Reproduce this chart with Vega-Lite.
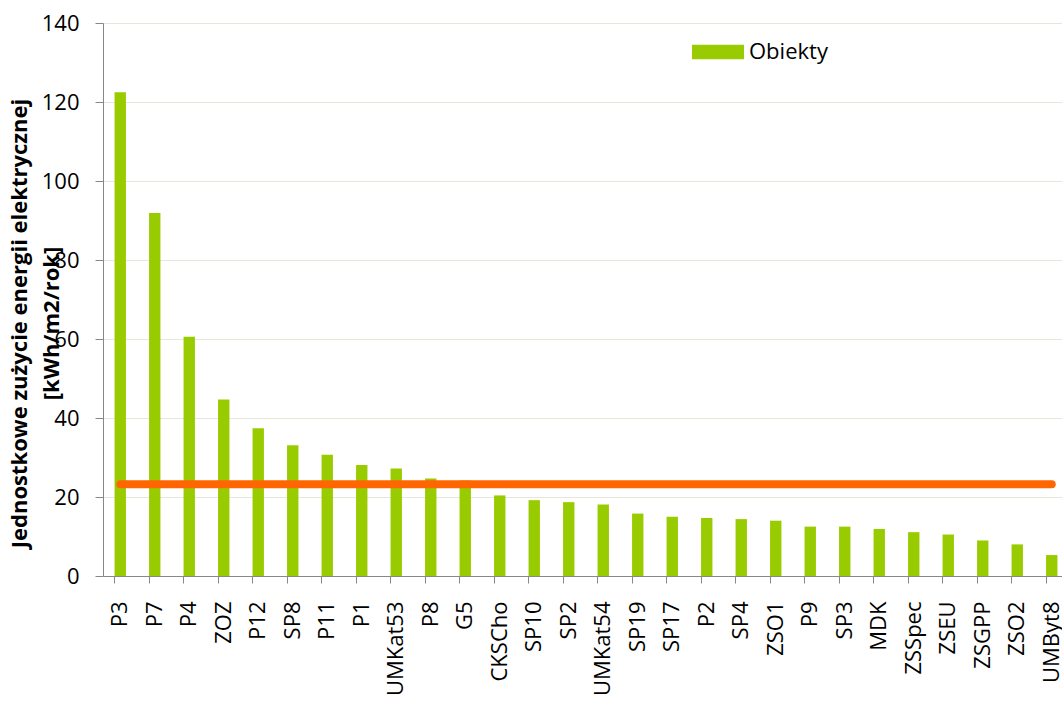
{
  "$schema": "https://vega.github.io/schema/vega-lite/v6.json",
  "width": 959,
  "height": 553,
  "autosize": {"type": "none"},
  "padding": {"left": 103, "top": 23, "right": 0, "bottom": 125},
  "background": "white",
  "config": {
    "view": {"stroke": null},
    "font": "Open Sans"
  },
  "data": {
    "values": [
      {"obiekt": "P3", "wartosc": 122.5, "srednia": 23.2},
      {"obiekt": "P7", "wartosc": 91.9, "srednia": 23.2},
      {"obiekt": "P4", "wartosc": 60.6, "srednia": 23.2},
      {"obiekt": "ZOZ", "wartosc": 44.7, "srednia": 23.2},
      {"obiekt": "P12", "wartosc": 37.4, "srednia": 23.2},
      {"obiekt": "SP8", "wartosc": 33.1, "srednia": 23.2},
      {"obiekt": "P11", "wartosc": 30.7, "srednia": 23.2},
      {"obiekt": "P1", "wartosc": 28.1, "srednia": 23.2},
      {"obiekt": "UMKat53", "wartosc": 27.2, "srednia": 23.2},
      {"obiekt": "P8", "wartosc": 24.7, "srednia": 23.2},
      {"obiekt": "G5", "wartosc": 24.2, "srednia": 23.2},
      {"obiekt": "CKSCho", "wartosc": 20.4, "srednia": 23.2},
      {"obiekt": "SP10", "wartosc": 19.2, "srednia": 23.2},
      {"obiekt": "SP2", "wartosc": 18.7, "srednia": 23.2},
      {"obiekt": "UMKat54", "wartosc": 18.1, "srednia": 23.2},
      {"obiekt": "SP19", "wartosc": 15.8, "srednia": 23.2},
      {"obiekt": "SP17", "wartosc": 15.0, "srednia": 23.2},
      {"obiekt": "P2", "wartosc": 14.7, "srednia": 23.2},
      {"obiekt": "SP4", "wartosc": 14.4, "srednia": 23.2},
      {"obiekt": "ZSO1", "wartosc": 14.0, "srednia": 23.2},
      {"obiekt": "P9", "wartosc": 12.5, "srednia": 23.2},
      {"obiekt": "SP3", "wartosc": 12.5, "srednia": 23.2},
      {"obiekt": "MDK", "wartosc": 11.9, "srednia": 23.2},
      {"obiekt": "ZSSpec", "wartosc": 11.1, "srednia": 23.2},
      {"obiekt": "ZSEU", "wartosc": 10.5, "srednia": 23.2},
      {"obiekt": "ZSGPP", "wartosc": 9.0, "srednia": 23.2},
      {"obiekt": "ZSO2", "wartosc": 8.0, "srednia": 23.2},
      {"obiekt": "UMByt8", "wartosc": 5.3, "srednia": 23.2}
    ]
  },
  "encoding": {
    "x": {
      "field": "obiekt",
      "type": "nominal",
      "sort": null,
      "scale": {"range": [0, 966], "paddingInner": 0.67, "paddingOuter": 0.335},
      "axis": {
        "title": null,
        "labelAngle": -90,
        "labelAlign": "right",
        "labelBaseline": "middle",
        "labelFont": "Open Sans",
        "labelFontSize": 22,
        "labelColor": "#000000",
        "labelPadding": 18,
        "labelLimit": 0,
        "bandPosition": 0,
        "tickSize": 7,
        "tickColor": "#878787",
        "domainColor": "#878787",
        "grid": false
      }
    }
  },
  "layer": [
    {
      "mark": {"type": "bar", "color": "#99CC00"},
      "encoding": {
        "y": {
          "field": "wartosc",
          "type": "quantitative",
          "scale": {"domain": [0, 140], "nice": false},
          "axis": {
            "title": ["Jednostkowe zużycie energii elektrycznej", "[kWh/m2/rok]"],
            "titleFont": "Open Sans",
            "titleFontSize": 22,
            "titleFontWeight": "bold",
            "titleColor": "#000000",
            "titleAngle": -90,
            "titleAlign": "center",
            "titleBaseline": "middle",
            "titleLineHeight": 32,
            "titleX": -84,
            "titleY": 300,
            "values": [0, 20, 40, 60, 80, 100, 120, 140],
            "labelFont": "Open Sans",
            "labelFontSize": 22,
            "labelColor": "#000000",
            "labelPadding": 16,
            "tickSize": 8,
            "tickColor": "#878787",
            "domainColor": "#878787",
            "gridColor": "#E6E6DA",
            "gridWidth": 1.2
          }
        },
        "color": {
          "datum": "Obiekty",
          "type": "nominal",
          "scale": {"range": ["#99CC00"]},
          "legend": {
            "title": null,
            "orient": "none",
            "legendX": 589,
            "legendY": 3,
            "padding": 0,
            "symbolType": "M-1,-0.28H1V0.28H-1Z",
            "symbolSize": 2704,
            "symbolStrokeWidth": 0,
            "symbolOpacity": 1,
            "labelFont": "Open Sans",
            "labelFontSize": 22,
            "labelColor": "#000000",
            "labelOffset": 5
          }
        }
      }
    },
    {
      "mark": {"type": "line", "color": "#FF6600", "strokeWidth": 8, "strokeCap": "round"},
      "encoding": {
        "y": {"field": "srednia", "type": "quantitative"}
      }
    }
  ]
}
